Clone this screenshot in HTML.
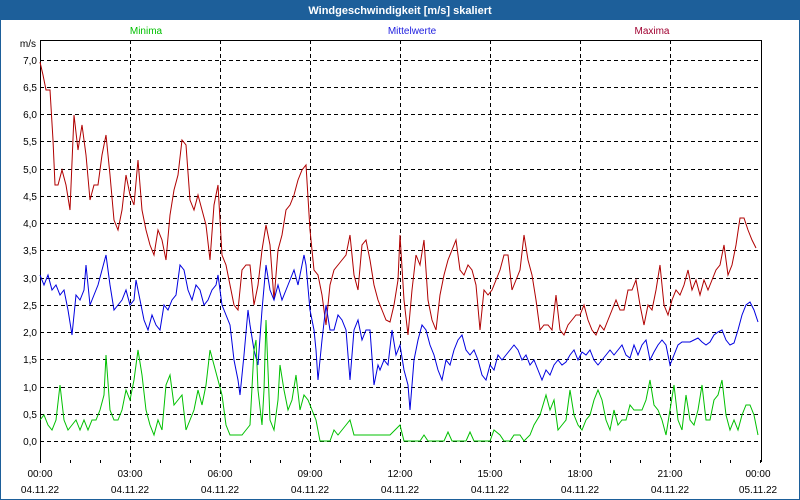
<!DOCTYPE html>
<html><head><meta charset="utf-8"><style>
body{margin:0;background:#fff}
svg{display:block;font-family:"Liberation Sans",sans-serif}
</style></head><body>
<svg width="800" height="500" xmlns="http://www.w3.org/2000/svg">
<rect x="0" y="0" width="800" height="500" fill="#fff"/>
<rect x="0.5" y="0.5" width="799" height="499" fill="none" stroke="#1d5f9a"/>
<rect x="0" y="0" width="800" height="20" fill="#1d5f9a"/>
<text x="400" y="14" fill="#fff" font-size="11" font-weight="bold" text-anchor="middle">Windgeschwindigkeit [m/s] skaliert</text>
<text x="146" y="34" fill="#00c000" font-size="10" text-anchor="middle">Minima</text>
<text x="412" y="34" fill="#2020e0" font-size="10" text-anchor="middle">Mittelwerte</text>
<text x="652" y="34" fill="#a00030" font-size="10" text-anchor="middle">Maxima</text>
<text x="36" y="47" font-size="10" text-anchor="end">m/s</text>
<g stroke="#000" stroke-dasharray="4,3" stroke-width="1">
<line x1="40" y1="60.5" x2="762" y2="60.5"/><line x1="40" y1="87.5" x2="762" y2="87.5"/><line x1="40" y1="114.5" x2="762" y2="114.5"/><line x1="40" y1="141.5" x2="762" y2="141.5"/><line x1="40" y1="169.5" x2="762" y2="169.5"/><line x1="40" y1="196.5" x2="762" y2="196.5"/><line x1="40" y1="223.5" x2="762" y2="223.5"/><line x1="40" y1="250.5" x2="762" y2="250.5"/><line x1="40" y1="278.5" x2="762" y2="278.5"/><line x1="40" y1="305.5" x2="762" y2="305.5"/><line x1="40" y1="332.5" x2="762" y2="332.5"/><line x1="40" y1="359.5" x2="762" y2="359.5"/><line x1="40" y1="387.5" x2="762" y2="387.5"/><line x1="40" y1="414.5" x2="762" y2="414.5"/><line x1="40" y1="441.5" x2="762" y2="441.5"/>
<line x1="130.5" y1="40" x2="130.5" y2="460"/><line x1="220.5" y1="40" x2="220.5" y2="460"/><line x1="310.5" y1="40" x2="310.5" y2="460"/><line x1="400.5" y1="40" x2="400.5" y2="460"/><line x1="490.5" y1="40" x2="490.5" y2="460"/><line x1="580.5" y1="40" x2="580.5" y2="460"/><line x1="670.5" y1="40" x2="670.5" y2="460"/>
</g>
<g stroke="#000" stroke-width="1" fill="none">
<line x1="40" y1="40.5" x2="762" y2="40.5"/><line x1="40.5" y1="40" x2="40.5" y2="463"/><line x1="761.5" y1="40" x2="761.5" y2="462"/>
<path d="M70.5 460v3M100.5 460v3M130.5 460v3M160.5 460v3M190.5 460v3M220.5 460v3M250.5 460v3M280.5 460v3M310.5 460v3M340.5 460v3M370.5 460v3M400.5 460v3M430.5 460v3M460.5 460v3M490.5 460v3M520.5 460v3M550.5 460v3M580.5 460v3M610.5 460v3M640.5 460v3M670.5 460v3M700.5 460v3M730.5 460v3M760.5 460v3"/>
</g>
<g font-size="10" text-anchor="end">
<text x="37" y="64">7,0</text><text x="37" y="91">6,5</text><text x="37" y="118">6,0</text><text x="37" y="145">5,5</text><text x="37" y="173">5,0</text><text x="37" y="200">4,5</text><text x="37" y="227">4,0</text><text x="37" y="254">3,5</text><text x="37" y="282">3,0</text><text x="37" y="309">2,5</text><text x="37" y="336">2,0</text><text x="37" y="363">1,5</text><text x="37" y="391">1,0</text><text x="37" y="418">0,5</text><text x="37" y="445">0,0</text>
</g>
<g font-size="10" text-anchor="middle">
<text x="40" y="477">00:00</text><text x="40" y="493">04.11.22</text>
<text x="130" y="477">03:00</text><text x="130" y="493">04.11.22</text>
<text x="220" y="477">06:00</text><text x="220" y="493">04.11.22</text>
<text x="310" y="477">09:00</text><text x="310" y="493">04.11.22</text>
<text x="400" y="477">12:00</text><text x="400" y="493">04.11.22</text>
<text x="490" y="477">15:00</text><text x="490" y="493">04.11.22</text>
<text x="580" y="477">18:00</text><text x="580" y="493">04.11.22</text>
<text x="670" y="477">21:00</text><text x="670" y="493">04.11.22</text>
<text x="758" y="477">00:00</text><text x="758" y="493">05.11.22</text>
</g>
<g fill="none" stroke-width="1">
<polyline stroke="#b00000" points="40,62 43,75 46,90 50,90 53,140 55,185 58,185 62,170 66,185 70,210 74,115 78,150 82,125 86,155 90,200 94,185 98,185 102,155 106,135 110,175 114,220 118,230 122,210 126,175 130,195 134,205 138,160 142,210 146,230 150,245 154,255 158,230 162,240 166,260 170,215 174,190 178,175 182,140 186,145 190,200 194,210 198,195 202,210 206,225 210,260 214,205 218,185 222,255 226,265 230,285 234,305 238,310 242,270 246,265 250,265 254,305 258,285 262,250 266,225 270,245 274,300 278,250 282,235 286,210 290,205 294,195 298,180 302,170 306,165 310,230 314,270 318,275 322,295 326,325 330,285 334,270 338,265 342,260 346,255 350,235 354,275 358,290 362,245 366,240 370,260 374,285 378,300 382,310 386,320 390,322 394,305 398,280 400,235 404,300 408,335 412,290 416,255 420,265 424,240 428,300 432,320 436,330 440,295 444,275 448,260 452,250 456,240 460,270 464,275 468,265 472,270 476,285 480,330 484,290 488,295 492,290 496,280 500,270 504,255 508,255 512,290 516,280 520,270 524,235 528,260 532,275 536,300 540,330 544,325 548,325 552,330 556,295 560,330 564,335 568,325 572,320 576,315 580,315 584,305 588,320 592,330 596,335 600,325 604,330 608,320 612,310 616,300 620,310 624,310 628,290 632,290 636,280 640,305 644,325 648,305 652,310 656,290 660,265 664,305 668,315 672,300 676,290 680,295 684,285 688,270 692,290 696,280 700,295 704,280 708,290 712,280 716,270 720,265 724,245 728,275 732,265 736,245 740,218 744,218 748,230 752,240 756,248"/>
<polyline stroke="#0000e0" points="40,275 44,285 48,275 52,290 56,285 60,295 64,290 68,310 72,335 76,295 80,300 84,290 86,265 90,305 94,295 98,285 102,270 106,255 110,285 114,310 118,305 122,300 126,290 130,305 134,300 136,280 140,300 144,320 148,330 152,315 156,325 160,330 164,305 168,310 172,300 176,295 180,265 184,270 188,290 192,300 196,285 200,290 204,305 208,300 212,290 216,285 218,275 222,305 226,315 230,325 234,360 238,380 240,395 244,355 248,310 250,325 254,350 258,365 262,310 266,265 270,290 274,300 278,285 282,300 286,290 290,280 294,270 298,285 302,265 304,255 306,265 310,310 314,330 316,350 318,380 322,340 326,305 330,330 334,330 338,315 342,320 346,330 350,380 354,330 358,320 362,340 366,330 370,330 374,385 378,365 380,370 384,360 388,365 392,330 396,355 400,345 404,370 408,385 410,410 414,360 418,340 422,325 426,330 430,345 434,355 438,370 442,380 446,360 450,365 454,350 458,340 462,335 466,350 470,355 474,350 478,360 482,375 486,380 490,365 494,370 498,355 502,360 506,355 510,350 514,345 518,350 522,360 526,355 530,365 534,360 538,370 542,380 546,370 550,375 554,365 558,360 562,365 566,362 570,355 574,350 578,360 582,352 586,355 590,350 594,360 598,365 602,360 606,355 610,350 614,355 618,350 622,345 626,355 630,358 634,345 638,355 642,345 646,340 650,360 654,352 658,345 662,340 666,345 670,365 674,355 678,345 682,342 686,342 690,342 694,340 698,338 702,342 706,345 710,342 714,335 718,332 722,330 726,340 730,345 734,343 738,330 742,315 746,305 750,302 754,310 758,322"/>
<polyline stroke="#00c000" points="40,420 44,415 48,425 52,430 56,420 60,385 64,420 68,430 72,425 76,420 80,430 84,420 88,430 92,420 96,420 100,410 104,395 106,355 110,410 114,420 118,420 122,410 126,390 130,400 134,380 138,350 142,375 146,410 150,425 154,435 158,420 162,430 166,385 170,375 174,405 178,400 182,395 186,430 190,420 194,410 198,390 202,405 206,385 210,350 214,365 218,380 222,395 226,425 230,435 234,435 238,435 242,435 246,430 250,425 254,350 256,340 258,390 262,425 264,390 266,320 270,420 274,430 278,400 280,365 284,390 288,410 292,400 296,375 300,410 304,395 308,400 312,410 316,420 320,441 330,441 334,430 338,435 342,430 346,425 350,420 354,435 358,435 390,435 400,425 404,441 420,441 424,435 428,441 444,441 448,432 452,441 466,441 470,432 474,441 490,441 494,430 500,435 504,441 510,441 514,435 520,435 524,441 530,435 534,425 540,415 546,395 550,410 554,400 558,430 562,425 566,420 570,390 574,415 578,425 582,430 586,420 590,415 594,400 598,390 602,400 606,420 610,430 614,410 618,425 622,420 626,420 630,405 634,410 638,410 642,410 646,400 650,380 654,405 658,410 662,420 666,435 670,410 674,385 678,420 682,430 686,395 690,420 694,425 698,410 702,385 706,420 710,420 714,400 718,395 722,380 726,415 730,430 734,420 738,430 742,415 746,405 750,405 754,415 758,435"/>
</g>
</svg>
</body></html>
